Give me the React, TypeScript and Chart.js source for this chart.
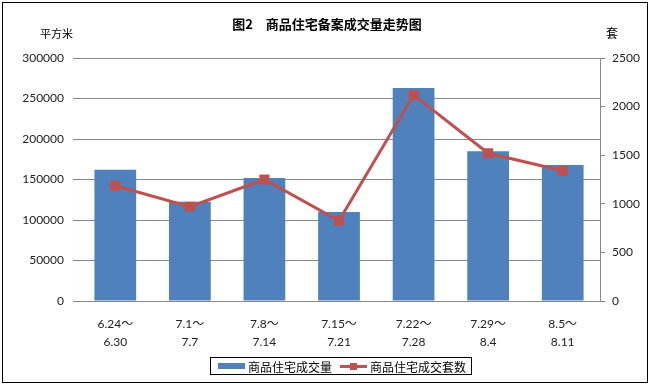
import React, { useEffect, useRef } from 'react';
import { Chart, registerables } from 'chart.js';

Chart.register(...registerables);

const categories: string[][] = [
  ['6.24～', '6.30'],
  ['7.1～', '7.7'],
  ['7.8～', '7.14'],
  ['7.15～', '7.21'],
  ['7.22～', '7.28'],
  ['7.29～', '8.4'],
  ['8.5～', '8.11'],
];
const areaValues: number[] = [162000, 122500, 152000, 110000, 263000, 185000, 168000];
const unitCounts: number[] = [1185, 970, 1250, 825, 2120, 1520, 1340];
const areaLabel = '商品住宅成交量';
const countLabel = '商品住宅成交套数';
const titleText = '图2　商品住宅备案成交量走势图';
const leftUnit = '平方米';
const rightUnit = '套';

const BLUE = '#4F81BD';
const RED = '#C0504D';
const GRID = '#888888';
const FONT = "Lato, 'Noto Sans CJK SC', sans-serif";
const CJK = "'Noto Sans CJK SC', sans-serif";

export default function App() {
  const ref = useRef<HTMLCanvasElement | null>(null);

  useEffect(() => {
    if (!ref.current) return;
    const plain = (v: any) => String(v);
    const chart = new Chart(ref.current, {
      type: 'bar',
      data: {
        labels: categories,
        datasets: [
          {
            type: 'line',
            label: countLabel,
            data: unitCounts,
            yAxisID: 'y1',
            borderColor: RED,
            backgroundColor: RED,
            borderWidth: 3,
            pointStyle: 'rect',
            pointRadius: 5,
            pointBackgroundColor: RED,
            pointBorderColor: RED,
            order: 0,
          } as any,
          {
            type: 'bar',
            label: areaLabel,
            data: areaValues,
            yAxisID: 'y',
            backgroundColor: BLUE,
            borderWidth: 0,
            barPercentage: 0.56,
            categoryPercentage: 1,
            order: 1,
          },
        ],
      },
      options: {
        responsive: false,
        animation: false,
        devicePixelRatio: 1,
        layout: { padding: { left: 0, right: 0, top: 58, bottom: 0 } },
        plugins: {
          legend: { display: false },
          title: { display: false },
          tooltip: { enabled: false },
        },
        scales: {
          x: {
            grid: { display: false, drawTicks: false },
            border: { display: false },
            ticks: {
              padding: 14,
              color: '#222',
              font: { family: FONT, size: 12, lineHeight: 1.5 },
              maxRotation: 0,
              autoSkip: false,
            },
            afterFit: (s: any) => {
              s.height = 83;
            },
          },
          y: {
            position: 'left',
            min: 0,
            max: 300000,
            ticks: {
              stepSize: 50000,
              padding: 9,
              color: '#222',
              font: { family: FONT, size: 12 },
              callback: plain,
            },
            grid: { color: GRID, tickLength: 5, lineWidth: 1 },
            border: { display: false },
            afterFit: (s: any) => {
              s.width = 78;
            },
          },
          y1: {
            position: 'right',
            min: 0,
            max: 2500,
            ticks: {
              stepSize: 500,
              padding: 7,
              color: '#222',
              font: { family: FONT, size: 12 },
              callback: plain,
            },
            grid: { drawOnChartArea: false, color: GRID, tickLength: 5 },
            border: { display: true, color: GRID },
            afterFit: (s: any) => {
              s.width = 50;
            },
          },
        },
      },
    });
    return () => chart.destroy();
  }, []);

  return (
    <div style={{ position: 'absolute', left: 0, top: 0, width: 650, height: 384, background: '#fff' }}>
      <div
        style={{
          position: 'absolute',
          left: 2,
          top: 2,
          width: 644,
          height: 379,
          border: '1px solid #000',
        }}
      />
      <canvas ref={ref} width={650} height={384} style={{ position: 'absolute', left: 0, top: 0 }} />
      <div
        style={{
          position: 'absolute',
          left: 0,
          width: 650,
          top: 15,
          textAlign: 'center',
          fontFamily: CJK,
          fontWeight: 'bold',
          fontSize: 13,
          lineHeight: '18px',
          whiteSpace: 'pre',
          paddingLeft: 2,
        }}
      >
        {titleText}
      </div>
      <div
        style={{
          position: 'absolute',
          left: 40,
          top: 25,
          fontFamily: CJK,
          fontSize: 11,
          lineHeight: '16px',
        }}
      >
        {leftUnit}
      </div>
      <div
        style={{
          position: 'absolute',
          left: 606,
          top: 25,
          fontFamily: CJK,
          fontSize: 12,
          lineHeight: '16px',
        }}
      >
        {rightUnit}
      </div>
      <div
        style={{
          position: 'absolute',
          left: 210,
          top: 357,
          width: 262,
          height: 18,
          border: '1px solid #000',
          display: 'flex',
          alignItems: 'center',
          fontFamily: CJK,
          fontSize: 12,
          whiteSpace: 'nowrap',
          boxSizing: 'border-box',
        }}
      >
        <span style={{ display: 'inline-block', width: 27, height: 6, background: BLUE, marginLeft: 7, marginRight: 3 }} />
        <span>{areaLabel}</span>
        <span style={{ position: 'relative', display: 'inline-block', width: 27, height: 9, marginLeft: 8, marginRight: 3 }}>
          <span style={{ position: 'absolute', left: 0, top: 3, width: 27, height: 3, background: RED }} />
          <span style={{ position: 'absolute', left: 10, top: 1, width: 7, height: 7, background: RED }} />
        </span>
        <span>{countLabel}</span>
      </div>
    </div>
  );
}
